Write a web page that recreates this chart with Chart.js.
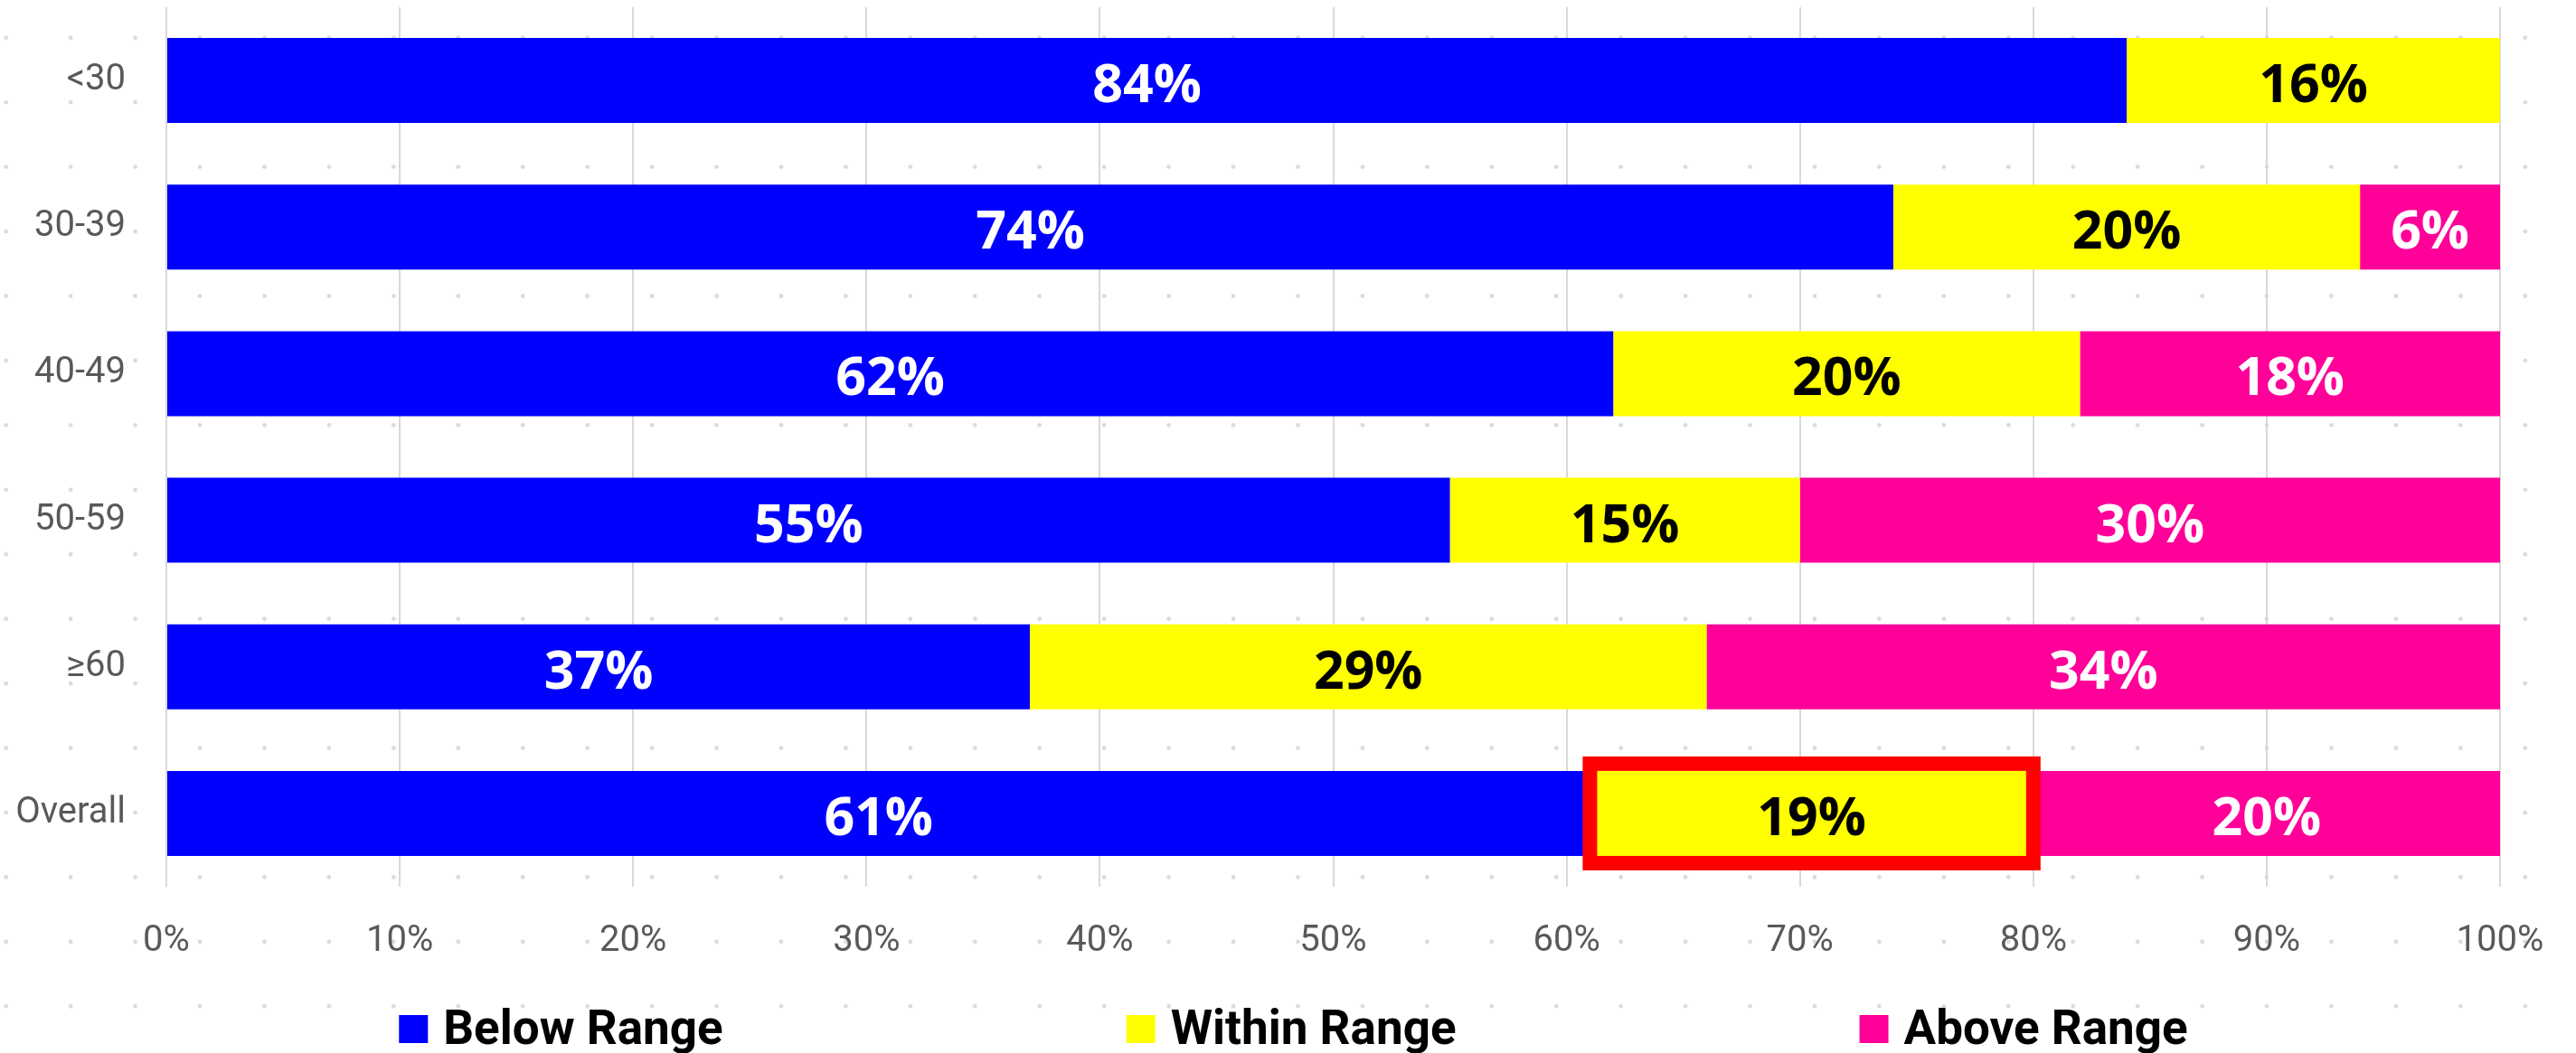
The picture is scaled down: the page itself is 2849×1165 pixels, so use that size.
<!DOCTYPE html>
<html lang="en">
<head>
<meta charset="UTF-8">
<meta name="viewport" content="width=device-width, initial-scale=1.0">
<title>Range by age group</title>
<script src="https://cdn.jsdelivr.net/npm/chart.js@4.4.1/dist/chart.umd.min.js"></script>
<style>
  html, body { margin: 0; padding: 0; background: #fff; }
  /* dotted paper behind the chart */
  #wrap {
    width: 2849px;
    height: 1165px;
    background-image: radial-gradient(circle, #d9d9d9 2px, rgba(255, 255, 255, 0) 2.7px);
    background-size: 71.44px 71.44px;
    background-position: -29px 6px;
  }
  canvas { display: block; }
</style>
</head>
<body>
<div id="wrap">
  <canvas id="chart" width="2849" height="1165"></canvas>
</div>

<script>
const ageGroups = ['<30', '30-39', '40-49', '50-59', '≥60', 'Overall'];
const belowRange = [84, 74, 62, 55, 37, 61];
const withinRange = [16, 20, 20, 15, 29, 19];
const aboveRange = [0, 6, 18, 30, 34, 20];
const seriesNames = ['Below Range', 'Within Range', 'Above Range'];
const seriesColors = ['#0000ff', '#ffff00', '#ff0099'];
const labelColors = ['#ffffff', '#000000', '#ffffff'];
// cell that gets the red frame: Within Range, Overall
const framed = { dataset: 1, index: 5 };

const frameCell = {
  id: 'frameCell',
  afterDatasetsDraw(chart) {
    const bar = chart.getDatasetMeta(framed.dataset).data[framed.index];
    const { x, y, base, height } = bar.getProps(['x', 'y', 'base', 'height'], true);
    const ctx = chart.ctx;
    ctx.save();
    ctx.strokeStyle = '#ff0000';
    ctx.lineWidth = 16;
    ctx.strokeRect(base, y - height / 2 - 8, x - base, height + 16);
    ctx.restore();
  }
};

const segmentLabels = {
  id: 'segmentLabels',
  afterDatasetsDraw(chart) {
    const ctx = chart.ctx;
    ctx.save();
    ctx.font = '700 59px "Open Sans"';
    ctx.textAlign = 'center';
    ctx.textBaseline = 'alphabetic';
    chart.data.datasets.forEach((ds, i) => {
      chart.getDatasetMeta(i).data.forEach((bar, j) => {
        const v = ds.data[j];
        if (!v) return;
        const { x, y, base } = bar.getProps(['x', 'y', 'base'], true);
        ctx.fillStyle = labelColors[i];
        ctx.fillText(v + '%', (x + base) / 2, y + 24);
      });
    });
    ctx.restore();
  }
};

// legend row along the bottom, items spread far apart
const rangeLegend = {
  id: 'rangeLegend',
  afterDraw(chart) {
    const ctx = chart.ctx;
    const box = 32, gap = 17, spacing = 446;
    const baseline = chart.height - 10;
    ctx.save();
    ctx.font = '700 53px Roboto';
    ctx.textBaseline = 'alphabetic';
    ctx.textAlign = 'left';
    const items = chart.data.datasets.map(ds => ({
      text: ds.label,
      color: ds.backgroundColor,
      w: ctx.measureText(ds.label).width
    }));
    const total = items.reduce((s, it) => s + box + gap + it.w, 0) + spacing * (items.length - 1);
    let x = (chart.width - total) / 2 + 6;
    items.forEach(it => {
      ctx.fillStyle = it.color;
      ctx.fillRect(x, baseline - 32, box, 31);
      ctx.fillStyle = '#000';
      ctx.fillText(it.text, x + box + gap, baseline);
      x += box + gap + it.w + spacing;
    });
    ctx.restore();
  }
};

// keep tick padding from eating into the plot area
const noEdgePadding = scale => {
  scale.paddingTop = 0;
  scale.paddingBottom = 0;
  scale.paddingLeft = 0;
  scale.paddingRight = 0;
};

const ctx = document.getElementById('chart').getContext('2d');
new Chart(ctx, {
  type: 'bar',
  data: {
    labels: ageGroups,
    datasets: [belowRange, withinRange, aboveRange].map((d, i) => ({
      label: seriesNames[i],
      data: d,
      backgroundColor: seriesColors[i],
      borderWidth: 0,
      barPercentage: 0.58,
      categoryPercentage: 1
    }))
  },
  options: {
    indexAxis: 'y',
    responsive: false,
    animation: false,
    layout: { padding: { top: 8, right: 84, bottom: 99, left: 0 } },
    plugins: {
      legend: { display: false },
      tooltip: { enabled: false }
    },
    scales: {
      x: {
        stacked: true,
        min: 0,
        max: 100,
        border: { display: false },
        grid: { color: '#d9d9d9', lineWidth: 2, drawTicks: false },
        afterFit: scale => { noEdgePadding(scale); scale.height = 85; },
        ticks: {
          stepSize: 10,
          padding: 37,
          color: '#595959',
          font: { family: 'Roboto', size: 40 },
          callback: v => v + '%'
        }
      },
      y: {
        stacked: true,
        border: { display: false },
        grid: { display: false, drawTicks: false },
        afterFit: scale => { noEdgePadding(scale); scale.width = 184; },
        ticks: {
          padding: 45,
          color: '#595959',
          font: { family: 'Roboto', size: 40 }
        }
      }
    }
  },
  plugins: [frameCell, segmentLabels, rangeLegend]
});
</script>
</body>
</html>
